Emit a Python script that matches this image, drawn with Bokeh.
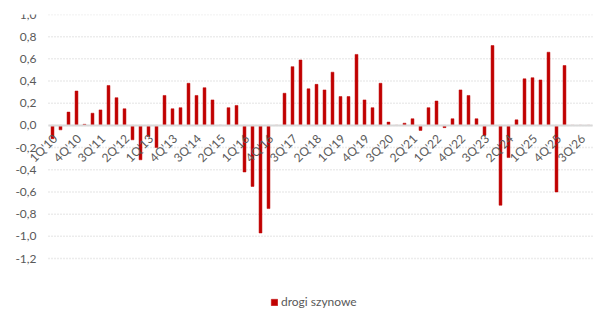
import numpy as np
from bokeh.plotting import figure
from bokeh.models import ColumnDataSource, Span, Legend, LegendItem, Range1d
from bokeh.core.properties import value
from bokeh.embed import file_html
from bokeh.resources import INLINE

years = list(range(10, 27))
quarters = [f"{q}Q'{y:02d}" for y in years for q in range(1, 5)]

values = [
    -0.12, -0.04, 0.12, 0.31, 0.01, 0.11, 0.14, 0.36, 0.25, 0.15,
    -0.13, -0.31, -0.10, -0.20, 0.27, 0.15, 0.16, 0.38, 0.27, 0.34,
    0.23, 0.0, 0.16, 0.18, -0.42, -0.55, -0.97, -0.75, 0.0, 0.29,
    0.53, 0.59, 0.33, 0.37, 0.32, 0.48, 0.26, 0.26, 0.64, 0.23,
    0.16, 0.38, 0.03, 0.0, 0.02, 0.06, -0.045, 0.16, 0.22, -0.02,
    0.06, 0.32, 0.27, 0.06, -0.09, 0.72, -0.72, -0.29, 0.05, 0.42,
    0.43, 0.41, 0.66, -0.60, 0.54, 0.0, 0.0, 0.0,
]

y_ticks = [-1.2, -1.0, -0.8, -0.6, -0.4, -0.2, 0.0, 0.2, 0.4, 0.6, 0.8, 1.0]
y_labels = [f"{t:.1f}".replace(".", ",") for t in y_ticks]
label_idx = list(range(0, len(quarters), 3))
label_text = [quarters[i] for i in label_idx]
series_name = "drogi szynowe"

FONT = "Lato"
GRAY = "#595959"
RED = "#c00000"

n = len(quarters)
x = list(range(n))
src = ColumnDataSource(dict(x=x, v=values))

FRAME_H = 295
Y_TOP = 1.0
Y_BOTTOM = Y_TOP - FRAME_H / (244 / 2.2)
X_LEFT = -0.5 - 48 / 8.0
X_RIGHT = n - 0.5 + 7 / 8.0

p = figure(frame_width=int(round((X_RIGHT - X_LEFT) * 8)), frame_height=FRAME_H,
           output_backend="svg", toolbar_location=None,
           x_range=Range1d(X_LEFT, X_RIGHT), y_range=Range1d(Y_BOTTOM, Y_TOP),
           min_border_left=0, min_border_right=0, min_border_top=14, min_border_bottom=0)
p.outline_line_color = None
p.background_fill_color = "white"
p.border_fill_color = "white"
p.xaxis.visible = False
p.yaxis.visible = False
p.xgrid.visible = False
p.ygrid.visible = False

# dotted horizontal gridlines over the category span
gsrc = ColumnDataSource(dict(x0=[-0.5] * len(y_ticks), x1=[n - 0.5] * len(y_ticks), y=y_ticks))
p.segment(x0="x0", x1="x1", y0="y", y1="y", source=gsrc, line_color="#d9d9d9",
          line_width=1.5, line_dash="1 2")

# y tick labels
ysrc = ColumnDataSource(dict(x=[-2.0] * len(y_ticks), y=y_ticks, t=y_labels))
p.text(x="x", y="y", text="t", source=ysrc, text_align="right", text_baseline="middle",
       text_font=value(FONT), text_font_size="12px", text_color=GRAY)

r = p.vbar(x="x", top="v", bottom=0, width=0.36, source=src, fill_color=RED, line_color=RED,
           line_width=0.5)

# zero line
p.segment(x0=[-0.5], x1=[n - 0.5], y0=[0], y1=[0], line_color="#d9d9d9", line_width=2)

# x labels near zero line
lsrc = ColumnDataSource(dict(x=[i + 0.3 for i in label_idx], y=[-0.1] * len(label_idx), t=label_text))
p.text(x="x", y="y", text="t", source=lsrc, angle=np.pi / 4, text_align="right",
       text_baseline="middle", text_font=value(FONT), text_font_size="12px", text_color=GRAY)

legend = Legend(items=[LegendItem(label=series_name, renderers=[r])], location=(270, 0),
                orientation="horizontal", label_text_font=FONT, label_text_font_size="12px",
                label_text_color=GRAY, glyph_width=8, glyph_height=8, label_standoff=3,
                border_line_color=None, background_fill_alpha=0, padding=2, margin=0)
p.add_layout(legend, "center")

open("out.html", "w").write(file_html(p, INLINE))
